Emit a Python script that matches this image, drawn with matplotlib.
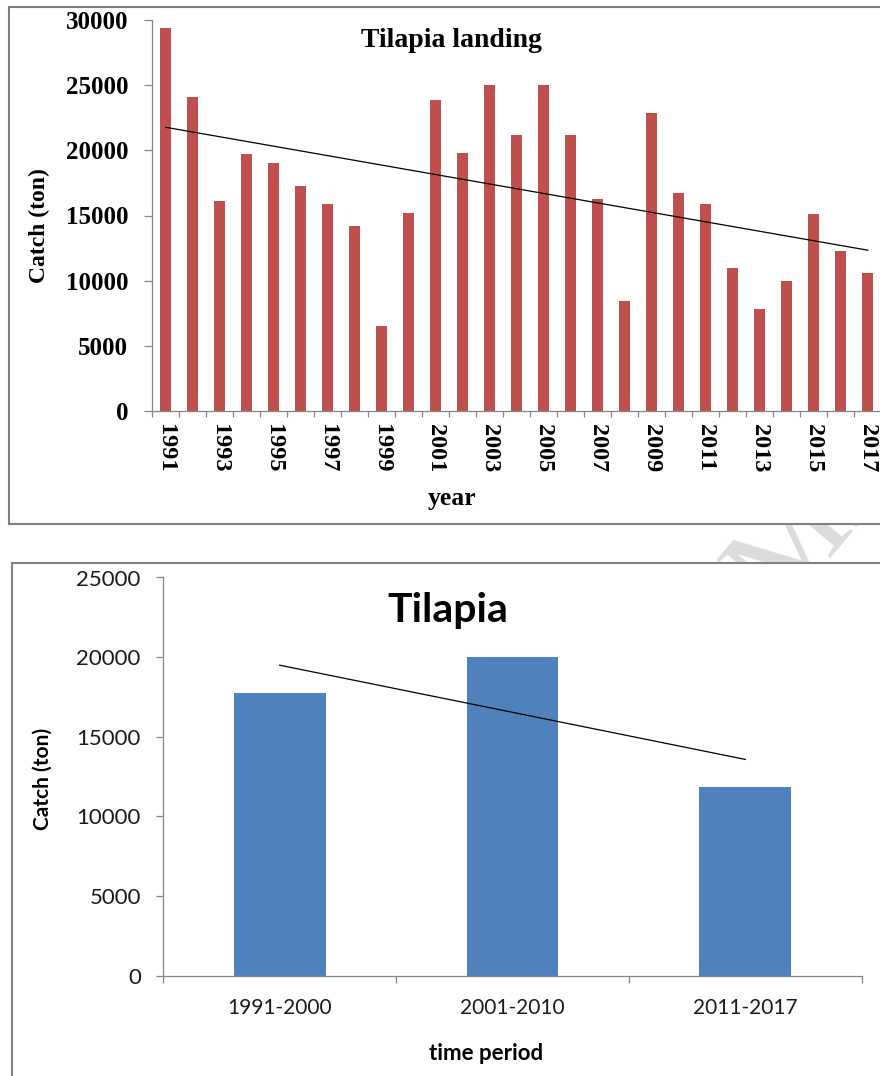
import numpy as np
import matplotlib
matplotlib.use("Agg")
import matplotlib.pyplot as plt
from matplotlib.patches import Rectangle

# Yearly tilapia landings (ton)
years = np.arange(1991, 2018)
catch_ton = np.array([29400, 24100, 16100, 19700, 19000, 17300, 15900, 14200, 6500, 15200,
                      23900, 19800, 25000, 21200, 25000, 21150, 16250, 8450, 22900, 16700,
                      15900, 11000, 7850, 10000, 15100, 12300, 10600])

# Period averages
periods = ["1991-2000", "2001-2010", "2011-2017"]
period_bounds = [(1991, 2000), (2001, 2010), (2011, 2017)]
period_mean = np.array([catch_ton[(years >= a) & (years <= b)].mean() for a, b in period_bounds])

W, H = 880, 1076
fig = plt.figure(figsize=(W / 100, H / 100), dpi=100)


def fx(px):
    return px / W


def fy(py):
    return 1 - py / H


SERIF = "Liberation Serif"
SANS = "Lato"
RED = "#C0504D"
BLUE = "#4F81BD"
AXIS_GREY = "#868686"

# faint page watermark behind the chart boxes
fig.text(fx(800), fy(545), "ACCEPTED MANUSCRIPT", rotation=50, rotation_mode="anchor",
         ha="center", va="center", fontsize=95, family=SERIF, color="#dcdcdc", zorder=-3)

# chart boxes
for x0, y0, x1, y1 in [(9, 7, 900, 524), (12.3, 563, 900, 1100)]:
    fig.add_artist(Rectangle((fx(x0), fy(y1)), fx(x1) - fx(x0), fy(y0) - fy(y1),
                             transform=fig.transFigure, facecolor="white",
                             edgecolor="#808080", linewidth=1.5, zorder=-1))

# ---------------- yearly landings ----------------
ax1 = fig.add_axes([fx(152.3), fy(410.7), 27 * 27 / W, (410.7 - 20.3) / H])
ax1.set_facecolor("none")
xi = np.arange(len(years))
ax1.bar(xi, catch_ton, width=0.42, color=RED, zorder=2)
c1 = np.polyfit(xi, catch_ton, 1)
ax1.plot([xi[0], xi[-1]], np.polyval(c1, [xi[0], xi[-1]]), color="black", lw=0.9, zorder=3)
ax1.set_xlim(-0.5, len(years) - 0.5)
ax1.set_ylim(0, 30000)
ax1.set_yticks(np.arange(0, 30001, 5000))
ax1.set_yticklabels([str(v) for v in range(0, 30001, 5000)], fontsize=18,
                    fontweight="bold", family=SERIF)
ax1.set_xticks(np.arange(-0.5, len(years), 1))
ax1.set_xticklabels([])
ax1.set_xticks(xi[::2], minor=True)
ax1.set_xticklabels([str(y) for y in years[::2]], minor=True, rotation=-90,
                    fontsize=17.5, fontweight="bold", family=SERIF)
for s in ["top", "right"]:
    ax1.spines[s].set_visible(False)
for s in ["left", "bottom"]:
    ax1.spines[s].set_color(AXIS_GREY)
    ax1.spines[s].set_linewidth(0.9)
ax1.tick_params(axis="x", which="major", length=4.5, width=0.9, color=AXIS_GREY)
ax1.tick_params(axis="x", which="minor", length=0, pad=9.5)
ax1.tick_params(axis="y", length=5.8, width=0.9, color=AXIS_GREY, pad=11.5)

fig.text(fx(451), fy(47.3), "Tilapia landing", ha="center", va="baseline",
         fontsize=20, fontweight="bold", family=SERIF)
fig.text(fx(39), fy(226), "Catch (ton)", rotation=90, ha="center", va="center",
         fontsize=17, fontweight="bold", family=SERIF)
fig.text(fx(452), fy(505), "year", ha="center", va="baseline",
         fontsize=18.5, fontweight="bold", family=SERIF)

# ---------------- period averages ----------------
ax2 = fig.add_axes([fx(163.3), fy(975.5), (861.7 - 163.3) / W, (975.5 - 577.5) / H])
ax2.set_facecolor("none")
pi = np.arange(len(periods))
ax2.bar(pi, period_mean, width=0.395, color=BLUE, zorder=2)
c2 = np.polyfit(pi, period_mean, 1)
ax2.plot([pi[0], pi[-1]], np.polyval(c2, [pi[0], pi[-1]]), color="black", lw=0.9, zorder=3)
ax2.set_xlim(-0.5, len(periods) - 0.5)
ax2.set_ylim(0, 25000)
ax2.set_yticks(np.arange(0, 25001, 5000))
ax2.set_yticklabels([str(v) for v in range(0, 25001, 5000)], fontsize=16, family=SANS,
                    color="#1a1a1a")
ax2.set_xticks(np.arange(-0.5, len(periods), 1))
ax2.set_xticklabels([])
ax2.set_xticks(pi, minor=True)
ax2.set_xticklabels(periods, minor=True, fontsize=15, family=SANS, color="#1a1a1a")
for s in ["top", "right"]:
    ax2.spines[s].set_visible(False)
for s in ["left", "bottom"]:
    ax2.spines[s].set_color(AXIS_GREY)
    ax2.spines[s].set_linewidth(0.9)
ax2.tick_params(axis="x", which="major", length=5.2, width=0.9, color=AXIS_GREY)
ax2.tick_params(axis="x", which="minor", length=0, pad=16)
ax2.tick_params(axis="y", length=5.2, width=0.9, color=AXIS_GREY, pad=11)

fig.text(fx(448), fy(621.7), "Tilapia", ha="center", va="baseline",
         fontsize=29.5, fontweight="bold", family=SANS)
fig.text(fx(42.7), fy(778.5), "Catch (ton)", rotation=90, ha="center", va="center",
         fontsize=15, fontweight="bold", family=SANS)
fig.text(fx(486.5), fy(1060.5), "time period", ha="center", va="baseline",
         fontsize=16, fontweight="bold", family=SANS)

fig.savefig("out.png", dpi=100)
